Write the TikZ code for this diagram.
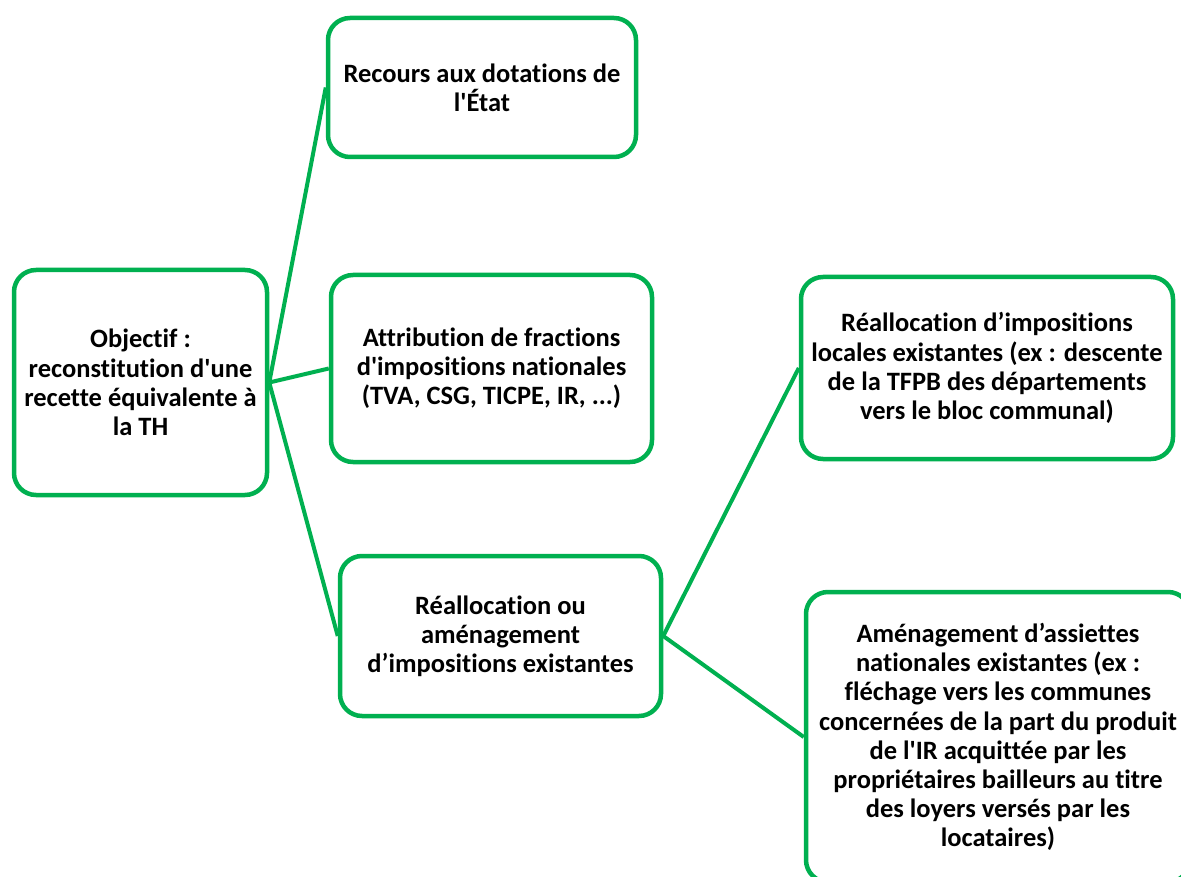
\documentclass[tikz,border=0pt]{standalone}
\usepackage{fontspec}
\setmainfont{Carlito}[Ligatures={NoCommon}]
\newcommand{\sq}{\textquotesingle}
\definecolor{ogreen}{HTML}{00B050}
\tikzset{
  box/.style={draw=ogreen, line width=4.5pt, rounded corners=22pt, fill=white, align=center,
    font=\bfseries\fontsize{26.5}{29.2}\selectfont, inner sep=0pt},
  link/.style={draw=ogreen, line width=4pt}
}
\begin{document}
\begin{tikzpicture}[x=1pt,y=-1pt]
\clip (0,0) rectangle (1181,877);
\fill[white] (0,0) rectangle (1181,877);
\node[box, minimum width=253pt, minimum height=225pt] (obj) at (140.5,382.5)
  {Objectif :\\reconstitution d\sq une\\recette équivalente à\\la TH};
\node[box, minimum width=308pt, minimum height=139pt] (rec) at (482,87.5)
  {Recours aux dotations de\\l\sq État};
\node[box, minimum width=321pt, minimum height=187pt] (att) at (491.5,368.5)
  {Attribution de fractions\\d\sq impositions nationales\\(TVA, CSG, TICPE, IR, ...)};
\node[box, minimum width=321pt, minimum height=160pt] (rea) at (500.5,636)
  {Réallocation ou\\aménagement\\d’impositions existantes};
\node[box, minimum width=372pt, minimum height=182pt] (loc) at (987,368)
  {Réallocation d’impositions\\locales existantes (ex : descente\\de la TFPB des départements\\vers le bloc communal)};
\node[box, minimum width=384pt, minimum height=290pt] (ame) at (998,737)
  {Aménagement d’assiettes\\nationales existantes (ex :\\fléchage vers les communes\\concernées de la part du produit\\de l\sq IR acquittée par les\\propriétaires bailleurs au titre\\des loyers versés par les\\locataires)};
\draw[link] (obj.east) -- (rec.west);
\draw[link] (obj.east) -- (att.west);
\draw[link] (obj.east) -- (rea.west);
\draw[link] (rea.east) -- (loc.west);
\draw[link] (rea.east) -- (ame.west);
\end{tikzpicture}
\end{document}
